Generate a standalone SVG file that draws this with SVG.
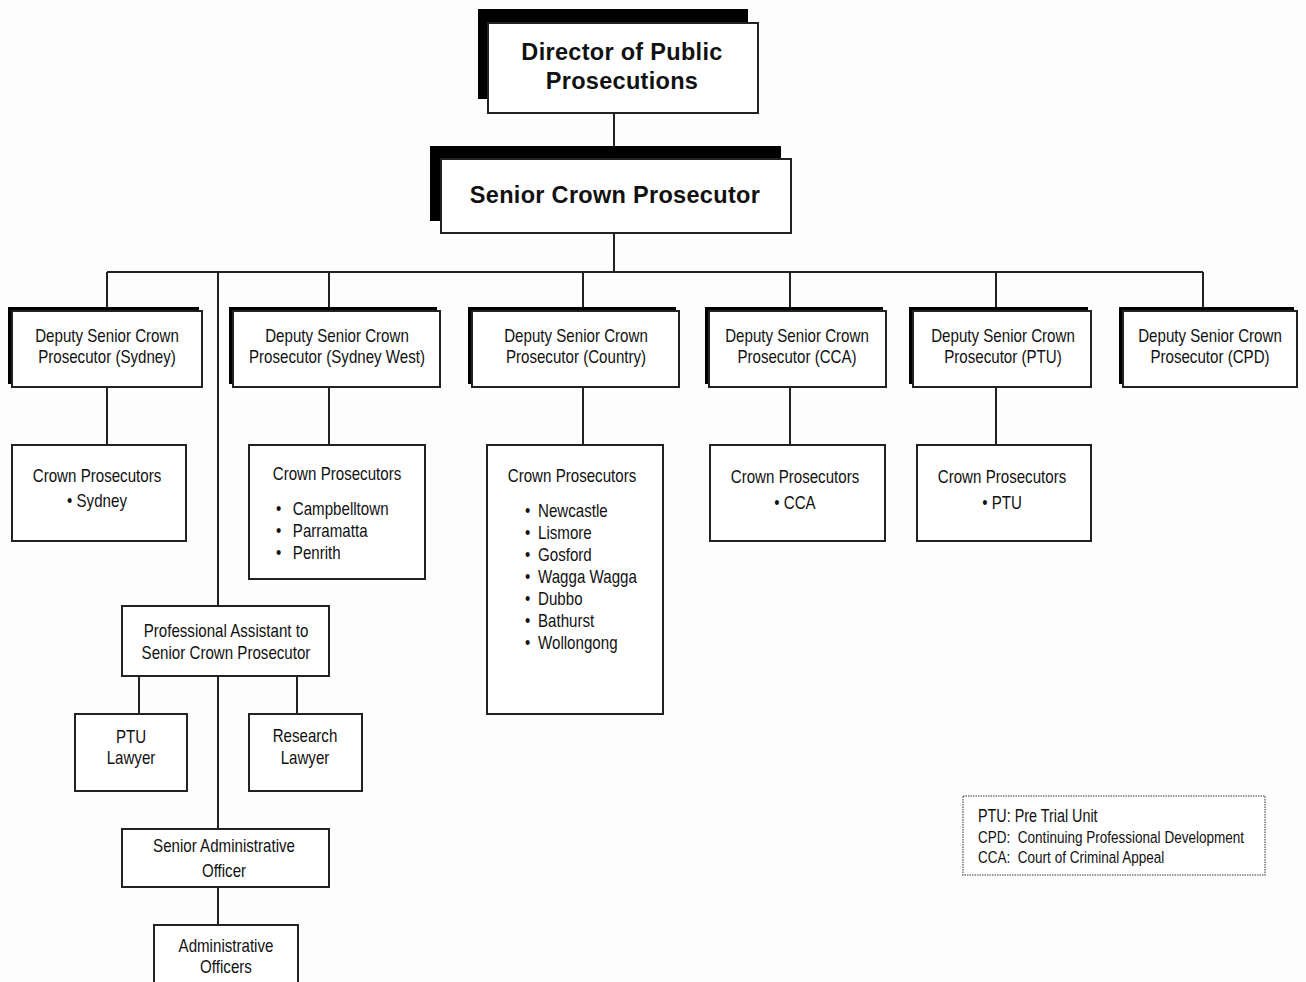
<svg xmlns="http://www.w3.org/2000/svg" width="1306" height="982" viewBox="0 0 1306 982">
<style>
.bg{fill:#fdfdfd}
.box{fill:#fff;stroke:#222;stroke-width:2}
.sh{fill:#000}
.ln{stroke:#222;stroke-width:2;fill:none}
.tb{font-family:"Liberation Sans",Arial,sans-serif;font-weight:bold;font-size:23.5px;fill:#111;text-anchor:middle;letter-spacing:0.3px}
.t{font-family:"Liberation Sans",Arial,sans-serif;font-size:18px;fill:#111;text-anchor:middle}
.tl{font-family:"Liberation Sans",Arial,sans-serif;font-size:18px;fill:#111}
.lg{font-family:"Liberation Sans",Arial,sans-serif;font-size:16.5px;fill:#111}
.leg{fill:#fff;stroke:#777;stroke-width:1.5;stroke-dasharray:1.5 1}
</style>
<rect class="bg" x="0" y="0" width="1306" height="982"/>

<g id="connectors">
<path class="ln" d="M614 113V159"/>
<path class="ln" d="M614 233V272"/>
<path class="ln" d="M107 272H1203"/>
<path class="ln" d="M107 272V311M329 272V311M583 272V311M790 272V311M996 272V311M1203 272V311"/>
<path class="ln" d="M218 272V829"/>
<path class="ln" d="M107 387V445M329 387V445M583 387V445M790 387V445M996 387V445"/>
<path class="ln" d="M139 676V714M297 676V714"/>
<path class="ln" d="M218 887V925"/>
</g>

<g id="dpp">
<rect class="sh" x="478" y="9" width="270" height="90"/>
<rect class="box" x="488" y="23" width="270" height="90"/>
<text class="tb" x="622" y="60">Director of Public</text>
<text class="tb" x="622" y="89">Prosecutions</text>
</g>

<g id="scp">
<rect class="sh" x="430" y="146" width="351" height="75"/>
<rect class="box" x="441" y="159" width="350" height="74"/>
<text class="tb" x="615" y="203">Senior Crown Prosecutor</text>
</g>

<g id="dscp-sydney">
<rect class="sh" x="8" y="307" width="191" height="77"/>
<rect class="box" x="12" y="311" width="190" height="76"/>
<g transform="matrix(0.84 0 0 1 107 0)"><text class="t" x="0" y="342">Deputy Senior Crown</text><text class="t" x="0" y="363">Prosecutor (Sydney)</text></g>
</g>

<g id="dscp-sydneywest">
<rect class="sh" x="229" y="307" width="208" height="77"/>
<rect class="box" x="233" y="311" width="207" height="76"/>
<g transform="matrix(0.84 0 0 1 337 0)"><text class="t" x="0" y="342">Deputy Senior Crown</text><text class="t" x="0" y="363">Prosecutor (Sydney West)</text></g>
</g>

<g id="dscp-country">
<rect class="sh" x="468" y="307" width="208" height="77"/>
<rect class="box" x="472" y="311" width="207" height="76"/>
<g transform="matrix(0.84 0 0 1 576 0)"><text class="t" x="0" y="342">Deputy Senior Crown</text><text class="t" x="0" y="363">Prosecutor (Country)</text></g>
</g>

<g id="dscp-cca">
<rect class="sh" x="705" y="307" width="178" height="77"/>
<rect class="box" x="709" y="311" width="177" height="76"/>
<g transform="matrix(0.84 0 0 1 797 0)"><text class="t" x="0" y="342">Deputy Senior Crown</text><text class="t" x="0" y="363">Prosecutor (CCA)</text></g>
</g>

<g id="dscp-ptu">
<rect class="sh" x="909" y="307" width="179" height="77"/>
<rect class="box" x="913" y="311" width="178" height="76"/>
<g transform="matrix(0.84 0 0 1 1003 0)"><text class="t" x="0" y="342">Deputy Senior Crown</text><text class="t" x="0" y="363">Prosecutor (PTU)</text></g>
</g>

<g id="dscp-cpd">
<rect class="sh" x="1119" y="307" width="175" height="77"/>
<rect class="box" x="1123" y="311" width="174" height="76"/>
<g transform="matrix(0.84 0 0 1 1210 0)"><text class="t" x="0" y="342">Deputy Senior Crown</text><text class="t" x="0" y="363">Prosecutor (CPD)</text></g>
</g>

<g id="cp-sydney">
<rect class="box" x="12" y="445" width="174" height="96"/>
<g transform="matrix(0.84 0 0 1 97 0)"><text class="t" x="0" y="482">Crown Prosecutors</text><text class="t" x="0" y="507">• Sydney</text></g>
</g>

<g id="cp-sydneywest">
<rect class="box" x="249" y="445" width="176" height="134"/>
<g transform="matrix(0.84 0 0 1 337 0)"><text class="t" x="0" y="480">Crown Prosecutors</text></g>
<g transform="matrix(0.84 0 0 1 276 0)">
<text class="tl" x="0" y="515">•</text><text class="tl" x="20" y="515">Campbelltown</text>
<text class="tl" x="0" y="537">•</text><text class="tl" x="20" y="537">Parramatta</text>
<text class="tl" x="0" y="559">•</text><text class="tl" x="20" y="559">Penrith</text>
</g>
</g>

<g id="cp-country">
<rect class="box" x="487" y="445" width="176" height="269"/>
<g transform="matrix(0.84 0 0 1 572 0)"><text class="t" x="0" y="482">Crown Prosecutors</text></g>
<g transform="matrix(0.84 0 0 1 525 0)">
<text class="tl" x="0" y="517">•</text><text class="tl" x="15.5" y="517">Newcastle</text>
<text class="tl" x="0" y="539">•</text><text class="tl" x="15.5" y="539">Lismore</text>
<text class="tl" x="0" y="561">•</text><text class="tl" x="15.5" y="561">Gosford</text>
<text class="tl" x="0" y="583">•</text><text class="tl" x="15.5" y="583">Wagga Wagga</text>
<text class="tl" x="0" y="605">•</text><text class="tl" x="15.5" y="605">Dubbo</text>
<text class="tl" x="0" y="627">•</text><text class="tl" x="15.5" y="627">Bathurst</text>
<text class="tl" x="0" y="649">•</text><text class="tl" x="15.5" y="649">Wollongong</text>
</g>
</g>

<g id="cp-cca">
<rect class="box" x="710" y="445" width="175" height="96"/>
<g transform="matrix(0.84 0 0 1 795 0)"><text class="t" x="0" y="483">Crown Prosecutors</text><text class="t" x="0" y="509">• CCA</text></g>
</g>

<g id="cp-ptu">
<rect class="box" x="917" y="445" width="174" height="96"/>
<g transform="matrix(0.84 0 0 1 1002 0)"><text class="t" x="0" y="483">Crown Prosecutors</text><text class="t" x="0" y="509">• PTU</text></g>
</g>

<g id="pa">
<rect class="box" x="122" y="606" width="207" height="70"/>
<g transform="matrix(0.84 0 0 1 226 0)"><text class="t" x="0" y="637">Professional Assistant to</text><text class="t" x="0" y="659">Senior Crown Prosecutor</text></g>
</g>

<g id="ptu-lawyer">
<rect class="box" x="75" y="714" width="112" height="77"/>
<g transform="matrix(0.84 0 0 1 131 0)"><text class="t" x="0" y="743">PTU</text><text class="t" x="0" y="764">Lawyer</text></g>
</g>

<g id="research-lawyer">
<rect class="box" x="249" y="714" width="113" height="77"/>
<g transform="matrix(0.84 0 0 1 305 0)"><text class="t" x="0" y="742">Research</text><text class="t" x="0" y="764">Lawyer</text></g>
</g>

<g id="sao">
<rect class="box" x="122" y="829" width="207" height="58"/>
<g transform="matrix(0.84 0 0 1 224 0)"><text class="t" x="0" y="852">Senior Administrative</text><text class="t" x="0" y="877">Officer</text></g>
</g>

<g id="ao">
<rect class="box" x="154" y="925" width="144" height="70"/>
<g transform="matrix(0.84 0 0 1 226 0)"><text class="t" x="0" y="952">Administrative</text><text class="t" x="0" y="973">Officers</text></g>
</g>

<g id="legend">
<rect class="leg" x="963" y="796" width="302" height="79"/>
<g transform="matrix(0.82 0 0 1 978 0)"><text class="lg" x="0" y="822" style="font-size:17.5px">PTU: Pre Trial Unit</text><text class="lg" x="0" y="843" xml:space="preserve">CPD:  Continuing Professional Development</text><text class="lg" x="0" y="863" xml:space="preserve">CCA:  Court of Criminal Appeal</text></g>
</g>
</svg>
